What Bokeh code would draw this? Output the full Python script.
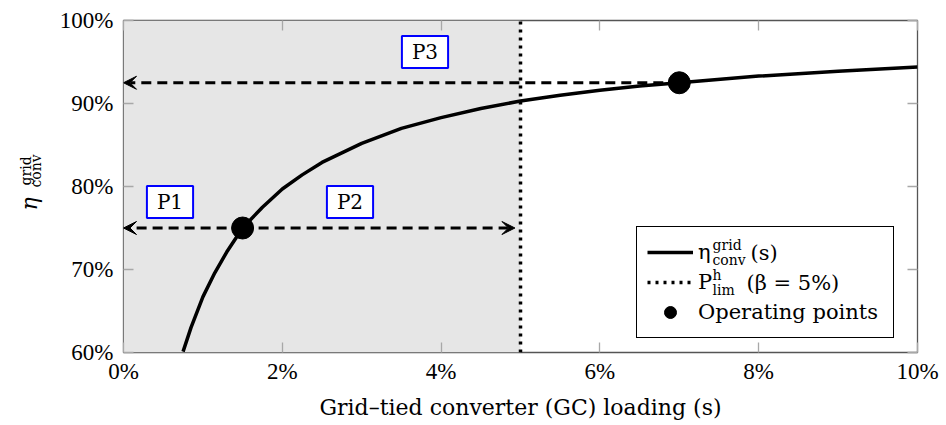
import math
from bokeh.plotting import figure
from bokeh.models import (Range1d, LinearAxis, FixedTicker, PrintfTickFormatter, BoxAnnotation,
                          Arrow, VeeHead, Label, Legend, LegendItem)
from bokeh.embed import file_html
from bokeh.resources import INLINE

# ---------------- data ----------------
load_pct = [0.75, 0.85, 1.0, 1.15, 1.3, 1.5, 1.75, 2.0, 2.25, 2.5, 3.0, 3.5,
            4.0, 4.5, 5.0, 5.5, 6.0, 6.5, 7.0, 8.0, 9.0, 10.0]
eff_pct = [60.1, 63.0, 66.7, 69.6, 72.1, 75.0, 77.5, 79.7, 81.4, 82.9, 85.2, 87.0,
           88.3, 89.4, 90.3, 91.0, 91.6, 92.1, 92.5, 93.3, 93.9, 94.4]
op_load = [1.5, 7.0]
op_eff = [75.0, 92.5]
limit_load = 5.0
x_ticks = [0, 2, 4, 6, 8, 10]
y_ticks = [60, 70, 80, 90, 100]
box_labels = ["P1", "P2", "P3"]

x_lo, x_hi = 0, 10
y_lo, y_hi = 60, 100

TICK_FONT = "Liberation Serif"
FONT = "DejaVu Serif"
NB = "\u00a0"
# frame geometry on the page (px), used to place annotation texts
FL, FT, FW, FH = 123, 20, 794, 332


def xd(px):
    return x_lo + (px - FL) / FW * (x_hi - x_lo)


def yd(py):
    return y_hi - (py - FT) / FH * (y_hi - y_lo)


p = figure(frame_width=FW, frame_height=FH, x_range=Range1d(x_lo, x_hi), y_range=Range1d(y_lo, y_hi),
           output_backend="svg", toolbar_location=None,
           min_border_left=FL, min_border_top=FT, min_border_right=24, min_border_bottom=40,
           background_fill_color="white", border_fill_color="white")
p.grid.visible = False
p.outline_line_color = "#555555"
p.outline_line_width = 1.3


def style_axis(ax, ticks, show_labels=True):
    ax.ticker = FixedTicker(ticks=ticks)
    ax.formatter = PrintfTickFormatter(format="%d%%")
    ax.axis_line_color = None
    ax.major_tick_in = 10
    ax.major_tick_out = 0
    ax.minor_tick_in = 0
    ax.minor_tick_out = 0
    ax.major_tick_line_color = "#a8a8a8"
    ax.major_tick_line_width = 1.3
    ax.major_label_text_font = TICK_FONT
    if show_labels:
        ax.major_label_text_color = "black"
        ax.major_label_text_font_size = "23px"
    else:
        ax.major_label_text_color = None
        ax.major_label_text_font_size = "1px"
        ax.major_label_standoff = 0


style_axis(p.xaxis[0], x_ticks)
style_axis(p.yaxis[0], y_ticks)
p.xaxis[0].major_label_standoff = 6
p.yaxis[0].major_label_standoff = 10
p.xaxis[0].axis_label = "Grid\u2013tied converter (GC) loading (s)"
p.xaxis[0].axis_label_text_font = FONT
p.xaxis[0].axis_label_text_font_size = "22px"
p.xaxis[0].axis_label_text_font_style = "normal"
p.xaxis[0].axis_label_text_color = "black"
p.xaxis[0].axis_label_standoff = 8

# y-axis title: eta (main axis label), subscript and superscript on extra label-only axes
ya = p.yaxis[0]
ya.axis_label = "\u03b7" + NB * 5
ya.axis_label_text_font = FONT
ya.axis_label_text_font_size = "22px"
ya.axis_label_text_font_style = "italic"
ya.axis_label_text_color = "black"
ya.axis_label_standoff = 15


def label_axis(text, standoff):
    ax = LinearAxis(ticker=FixedTicker(ticks=[]), axis_line_color=None,
                    major_tick_in=0, major_tick_out=0, minor_tick_in=0, minor_tick_out=0,
                    major_label_text_font_size="1px", major_label_text_color=None,
                    major_label_standoff=0,
                    axis_label=text, axis_label_text_font=FONT, axis_label_text_font_size="14px",
                    axis_label_text_font_style="normal", axis_label_text_color="black",
                    axis_label_standoff=standoff)
    p.add_layout(ax, "left")


label_axis(NB * 7 + "conv", -30)
label_axis(NB * 7 + "grid", -20)

right_ax = LinearAxis()
style_axis(right_ax, y_ticks, show_labels=False)
p.add_layout(right_ax, "right")
top_ax = LinearAxis()
style_axis(top_ax, x_ticks, show_labels=False)
p.add_layout(top_ax, "above")

# shaded admissible region
p.add_layout(BoxAnnotation(left=x_lo, right=limit_load, fill_color="#e6e6e6", fill_alpha=1,
                           line_color=None, level="underlay"))

lim_r = p.line(x=[limit_load, limit_load], y=[y_lo, y_hi], line_color="black", line_width=3.5,
               line_dash="3 5")
curve_r = p.line(x=load_pct, y=eff_pct, line_color="black", line_width=3.5)

# arrows
dash = "10 6"
arrow_specs = [
    (op_load[0], op_eff[0], x_lo),
    (op_load[0], op_eff[0], limit_load - 0.07),
    (op_load[1], op_eff[1], x_lo),
]
for xs, ys, xe in arrow_specs:
    p.add_layout(Arrow(x_start=xs, y_start=ys, x_end=xe, y_end=ys, line_color="black", line_width=3,
                       line_dash=dash,
                       end=VeeHead(size=13, fill_color="black", line_color="black", line_width=1)))

pts_r = p.scatter(x=op_load, y=op_eff, size=22, color="black")

# P boxes
box_pos = [(xd(169.5), yd(201.5)), (xd(349.5), yd(201.5)), (xd(424.5), yd(51.5))]
for txt, (bx, by) in zip(box_labels, box_pos):
    p.add_layout(Label(x=bx, y=by, text=txt, text_align="center", text_baseline="middle",
                       text_font=FONT, text_font_size="20px", text_color="black",
                       border_line_color="#0000ff", border_line_width=2,
                       background_fill_color="white", background_fill_alpha=1,
                       padding=dict(left=10, right=10, top=4, bottom=4)))

# legend math pieces (drawn beneath the transparent legend)
legend_bits = [
    (712, 244, "grid", "14px"),
    (712, 259, "conv", "14px"),
    (750, 252, "(s)", "21px"),
    (712, 274, "h", "14px"),
    (712, 289, "lim", "14px"),
    (746, 282, "(\u03b2 = 5%)", "21px"),
]
for px, py, txt, fs in legend_bits:
    p.add_layout(Label(x=xd(px), y=yd(py), text=txt, text_align="left", text_baseline="middle",
                       text_font=FONT, text_font_size=fs, text_color="black"))

# legend
legend = Legend(items=[LegendItem(label="\u03b7", renderers=[curve_r]),
                       LegendItem(label="P", renderers=[lim_r]),
                       LegendItem(label="Operating points", renderers=[pts_r])],
                location=(513, 14), margin=0, padding=10, spacing=0,
                glyph_width=46, glyph_height=30, label_height=30, label_width=185, label_standoff=5,
                label_text_font=FONT, label_text_font_size="21px", label_text_color="black",
                border_line_color="black", border_line_width=1.2, border_line_alpha=1,
                background_fill_alpha=0)
p.add_layout(legend)

open("out.html", "w").write(file_html(p, INLINE))
